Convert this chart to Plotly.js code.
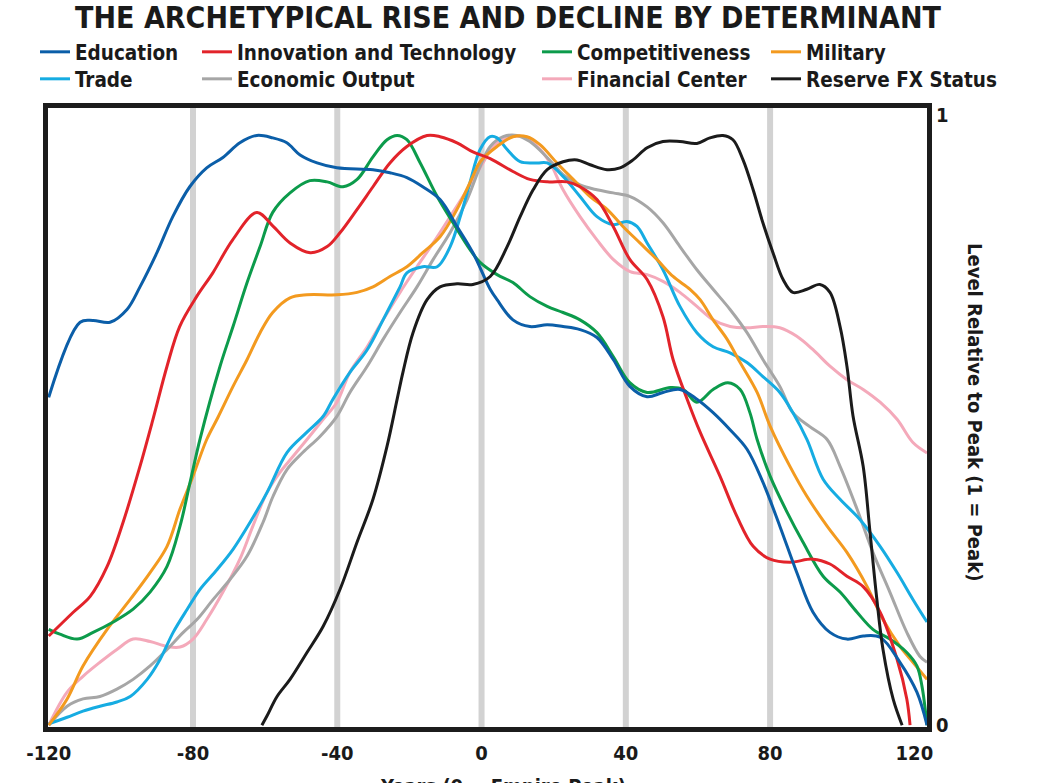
<!DOCTYPE html>
<html>
<head>
<meta charset="utf-8">
<script src="https://cdn.plot.ly/plotly-3.0.1.min.js"></script>
<style>html,body{margin:0;padding:0;background:#fff;}#chart{width:1045px;height:783px;}</style>
</head>
<body>
<div id="chart"></div>
<script>
// ---- data (years relative to empire peak, level relative to peak) ----
const educationX = [-120,-111.3,-107.7,-103,-98.3,-94.7,-90,-85.6,-80.9,-76.2,-71.7,-67,-62.3,-57.9,-54,-50.3,-45.6,-40.1,-30.1,-25.4,-20.7,-16.3,-11.5,-6.8,-2.4,2.4,4.3,8.7,13.4,18.2,22.6,27.3,32,36.5,41.1,45.9,50.3,55,59.7,64.2,68.9,73.6,78,82.7,87.4,91.9,96.6,101.3,105.8,110.5,116,120.7,123.5];
const educationY = [0.537,0.66,0.663,0.66,0.681,0.718,0.774,0.833,0.882,0.913,0.93,0.954,0.966,0.962,0.954,0.934,0.921,0.913,0.91,0.905,0.897,0.882,0.861,0.817,0.774,0.714,0.697,0.664,0.653,0.656,0.653,0.648,0.635,0.599,0.555,0.538,0.545,0.55,0.534,0.512,0.484,0.452,0.398,0.326,0.25,0.185,0.152,0.141,0.146,0.144,0.103,0.054,0];

const innovationX = [-120,-113.2,-108.5,-103.8,-99.4,-94.7,-91.1,-87.2,-83.7,-79,-74.5,-69,-62.3,-57.9,-53.1,-47.5,-42.8,-39.2,-34.5,-30.1,-25.4,-20.7,-15.1,-11.5,-6.8,-2.4,2.4,8.7,13.4,18.2,23.7,27.3,32,36.5,41.1,45.9,50.3,53.1,57,60.6,66.1,70.8,75.3,80,85.5,91.9,96.6,101.3,105.8,110.5,115.2,117.9,118.8];
const innovationY = [0.146,0.185,0.211,0.26,0.332,0.424,0.501,0.588,0.653,0.702,0.741,0.795,0.84,0.818,0.79,0.774,0.784,0.807,0.845,0.882,0.921,0.948,0.966,0.964,0.954,0.939,0.928,0.907,0.894,0.89,0.89,0.882,0.861,0.817,0.763,0.73,0.669,0.599,0.534,0.48,0.408,0.342,0.293,0.272,0.267,0.272,0.264,0.244,0.227,0.185,0.108,0.043,0];

const competitivenessX = [-120,-116.9,-112.1,-107.7,-102.1,-96.6,-91.9,-87.2,-83.6,-80.8,-78,-72.5,-68.9,-65,-61.4,-57.9,-53.1,-47.6,-42.8,-38.4,-34.5,-30.1,-26.2,-23.4,-20.7,-17,-12.3,-7.9,-3.2,-0.4,4.3,8.7,13.4,18.2,22.6,27.3,32,36.5,41.1,45.9,52.3,55.9,59.7,64.2,68.3,71.7,74.4,76.4,80,84.7,89.1,94.7,99.4,104.1,108.5,113.2,117.9,120.7,122.1,123.5];
const competitivenessY = [0.157,0.149,0.141,0.152,0.169,0.19,0.218,0.26,0.326,0.398,0.47,0.588,0.653,0.725,0.784,0.84,0.872,0.892,0.89,0.882,0.894,0.931,0.959,0.966,0.959,0.921,0.866,0.823,0.779,0.758,0.738,0.725,0.702,0.686,0.676,0.664,0.643,0.604,0.561,0.545,0.553,0.55,0.529,0.55,0.561,0.55,0.512,0.468,0.408,0.349,0.3,0.244,0.218,0.185,0.157,0.141,0.119,0.097,0.064,0];

const militaryX = [-120,-114.9,-110.5,-103.8,-97.4,-91.9,-87.2,-83.6,-80,-76.2,-73.1,-68.9,-65,-61.4,-57.9,-53.1,-48.4,-40.1,-34.5,-30.1,-25.4,-20.7,-16.3,-11.5,-6.8,-2.4,-0.4,4.3,8.7,12.6,16.2,20.9,25.4,30.1,34.8,39.2,43.9,48.6,53.1,57.8,60.6,64.2,68.1,71.7,76.4,80,85.5,90.2,95.8,101.3,106.9,111.3,116,119.6,123.5];
const militaryY = [0,0.043,0.097,0.157,0.206,0.25,0.293,0.354,0.408,0.468,0.504,0.555,0.599,0.643,0.676,0.7,0.705,0.705,0.709,0.718,0.735,0.751,0.774,0.8,0.845,0.899,0.923,0.948,0.964,0.964,0.951,0.921,0.894,0.866,0.845,0.817,0.79,0.763,0.735,0.714,0.697,0.664,0.632,0.594,0.545,0.49,0.424,0.375,0.326,0.283,0.227,0.173,0.129,0.103,0.075];

const tradeX = [-120,-114.9,-110.5,-105.8,-101.1,-97.4,-92.7,-89.1,-85.5,-81.6,-78,-73.3,-68.9,-64.2,-59.5,-53.9,-48.4,-43.9,-41.2,-36.5,-31.7,-27.3,-22.6,-20.7,-16.3,-12.3,-8.7,-5.9,-3.2,-0.4,2.4,4.3,7.1,10.7,15.4,18.2,22.6,27.3,32,36.5,40.3,43.1,45.9,50.3,55,59.7,64.2,68.9,73.6,78,82.7,86.3,90.2,94.7,99.4,104.9,110.5,115.2,119.6,123.5];
const tradeY = [0.002,0.013,0.023,0.031,0.038,0.047,0.075,0.108,0.152,0.19,0.223,0.255,0.288,0.332,0.381,0.447,0.48,0.506,0.534,0.578,0.615,0.664,0.718,0.741,0.751,0.751,0.784,0.833,0.889,0.943,0.964,0.962,0.943,0.923,0.921,0.921,0.899,0.866,0.833,0.82,0.825,0.817,0.79,0.746,0.686,0.643,0.62,0.61,0.594,0.571,0.545,0.512,0.468,0.403,0.37,0.337,0.293,0.25,0.206,0.169];

const economicX = [-120,-114.9,-110.5,-105.8,-101.1,-96.6,-91.9,-87.2,-82.7,-78.9,-74.4,-69.7,-65,-60.6,-57.8,-53.9,-49.5,-44.8,-40.1,-36.5,-31.7,-27.3,-22.6,-17.9,-13.4,-8.7,-4,-0.4,2.4,6,9.8,13.4,18.2,22.6,27.3,32,36.5,41.2,45.9,50.3,55,59.7,64.2,68.9,73.6,78,82.7,86.3,91,95.8,99.4,104.1,108.5,113.2,117.9,121.5,123.5];
const economicY = [0,0.031,0.043,0.047,0.059,0.075,0.097,0.124,0.152,0.173,0.206,0.239,0.277,0.332,0.375,0.419,0.447,0.473,0.506,0.545,0.588,0.632,0.676,0.718,0.763,0.807,0.861,0.915,0.948,0.964,0.966,0.956,0.93,0.902,0.885,0.877,0.872,0.866,0.849,0.823,0.784,0.746,0.714,0.681,0.643,0.599,0.555,0.512,0.489,0.468,0.424,0.354,0.283,0.218,0.152,0.113,0.103];

const financialX = [-120,-114.9,-110.5,-105.8,-101.1,-96.6,-91.9,-87.2,-83.6,-80,-76.2,-71.7,-67,-63.4,-59.5,-55.9,-52.3,-48.4,-43.9,-40.1,-36.5,-31.7,-27.3,-22.6,-17.9,-13.4,-8.7,-4,0.4,3.2,7.1,11.5,15.4,19,22.6,27.3,32,36.5,41.2,45.9,50.3,55,59.7,64.2,68.9,73.6,78,82.7,87.4,91.9,96.6,101.3,105.8,110.5,115.2,119.6,123.5];
const financialY = [0,0.054,0.08,0.103,0.124,0.141,0.137,0.129,0.128,0.141,0.173,0.218,0.272,0.326,0.381,0.414,0.44,0.468,0.501,0.529,0.578,0.62,0.664,0.709,0.751,0.79,0.833,0.877,0.921,0.948,0.962,0.964,0.948,0.921,0.877,0.833,0.795,0.763,0.743,0.738,0.727,0.709,0.686,0.664,0.653,0.651,0.653,0.651,0.637,0.615,0.588,0.566,0.55,0.529,0.501,0.463,0.446];

const reserveX = [-60.9,-59.5,-56.7,-53.1,-48.4,-43.9,-39.2,-34.5,-30.1,-26.2,-23.4,-21.8,-19,-15.1,-11.5,-6.8,-2.4,2.4,7.1,10.7,14.3,18.2,22.6,26.5,30.1,34.8,38.4,42,45.9,50.3,55,59.7,63.3,66.9,69.7,72.5,75.3,78,80.8,83.6,86.3,90.2,93.8,96.6,99.4,101.3,103,105.8,107.7,109.6,111.3,114.1,116.6];
const reserveY = [0,0.015,0.047,0.075,0.119,0.162,0.223,0.3,0.37,0.457,0.534,0.578,0.643,0.697,0.718,0.723,0.722,0.735,0.784,0.833,0.877,0.91,0.923,0.926,0.918,0.91,0.913,0.926,0.946,0.956,0.956,0.953,0.962,0.966,0.959,0.926,0.877,0.823,0.774,0.73,0.709,0.714,0.722,0.709,0.653,0.588,0.506,0.424,0.316,0.206,0.124,0.043,0];

const seriesNames = ["Education","Innovation and Technology","Competitiveness","Military","Trade","Economic Output","Financial Center","Reserve FX Status"];
const seriesColors = ["#0b5ea8","#e2232a","#0c9b4b","#f39a1f","#16ace2","#a6a6a6","#f4a9ba","#1b1b1b"];
const xTickVals = [-120,-80,-40,0,40,80,120];
const xTickText = ["-120","-80","-40","0","40","80","120"];
const gridYears = [-80,-40,0,40,80];
const yTickVals = [0,1];
const yTickText = ["0","1"];

const titleText = "THE ARCHETYPICAL RISE AND DECLINE BY DETERMINANT";
const xTitleText = "Years (0 = Empire Peak)";
const yTitleText = "Level Relative to Peak (1 = Peak)";

const FONT2 = "'DejaVu Sans Condensed','Liberation Sans',sans-serif";

const xs = [educationX, innovationX, competitivenessX, militaryX, tradeX, economicX, financialX, reserveX];
const ys = [educationY, innovationY, competitivenessY, militaryY, tradeY, economicY, financialY, reserveY];
// one legend box per entry so the two legend rows and four columns line up
const legendIds = ["legend","legend2","legend3","legend4","legend5","legend6","legend7","legend8"];
const legendColPx = [35, 197, 537, 766];
const legendRowTopPx = [32, 59];
const drawOrder = [6,5,4,3,2,1,0,7];

const traces = drawOrder.map(i => ({
  type: "scatter", mode: "lines",
  x: xs[i], y: ys[i], name: seriesNames[i],
  line: {color: seriesColors[i], width: 3, shape: "spline", smoothing: 1},
  legend: legendIds[i],
  hoverinfo: "skip"
}));

function leg(px, py) {
  return {
    x: px / 1045, y: 1 - py / 783, xref: "container", yref: "container",
    xanchor: "left", yanchor: "top", orientation: "v",
    bgcolor: "rgba(0,0,0,0)", borderwidth: 0,
    font: {family: FONT2, size: 20.5, color: "#1a1a1a", weight: "bold"},
    itemwidth: 30
  };
}

const layout = {
  width: 1045, height: 783,
  margin: {l: 48, r: 118, t: 108, b: 56, autoexpand: false},
  paper_bgcolor: "#ffffff", plot_bgcolor: "#ffffff",
  title: {
    text: titleText, x: 508 / 1045, xref: "container", xanchor: "center",
    y: 1 - 17 / 783, yref: "container", yanchor: "middle",
    font: {family: FONT2, size: 30, color: "#1a1a1a", weight: "bold"}
  },
  showlegend: true,
  xaxis: {
    range: [-120.2, 123.5], tickvals: xTickVals, ticktext: xTickText,
    showgrid: false, zeroline: false, showline: true, mirror: true,
    linewidth: 5, linecolor: "#1c1c1c", ticks: "", ticklabelstandoff: 4,
    tickfont: {family: FONT2, size: 20, color: "#1a1a1a", weight: "bold"},
    fixedrange: true, automargin: false
  },
  yaxis: {
    range: [-0.003, 1.011], side: "right", tickvals: yTickVals, ticktext: yTickText,
    showgrid: false, zeroline: false, showline: true, mirror: true,
    linewidth: 5, linecolor: "#1c1c1c", ticks: "",
    tickfont: {family: FONT2, size: 20, color: "#1a1a1a", weight: "bold"},
    fixedrange: true, automargin: false
  },
  shapes: gridYears.map(v => ({
    type: "line", xref: "x", yref: "paper", x0: v, x1: v, y0: 0, y1: 1,
    line: {color: "#d2d2d2", width: 6}, layer: "below"
  })),
  annotations: [
    {text: xTitleText, xref: "paper", yref: "paper", x: (503 - 48) / 879, y: -(772 - 727) / 619,
     xanchor: "center", yanchor: "top", showarrow: false,
     font: {family: FONT2, size: 20, color: "#1a1a1a", weight: "bold"}},
    {text: yTitleText, xref: "paper", yref: "paper", x: (975 - 48) / 879, y: 0.5 - (412 - 417.5) / 619,
     xanchor: "center", yanchor: "middle", showarrow: false, textangle: 90,
     font: {family: FONT2, size: 20, color: "#1a1a1a", weight: "bold"}}
  ]
};
legendIds.forEach((id, i) => {
  layout[id] = leg(legendColPx[i % 4], legendRowTopPx[Math.floor(i / 4)]);
});

Plotly.newPlot("chart", traces, layout, {displayModeBar: false, staticPlot: true});
</script>
</body>
</html>
